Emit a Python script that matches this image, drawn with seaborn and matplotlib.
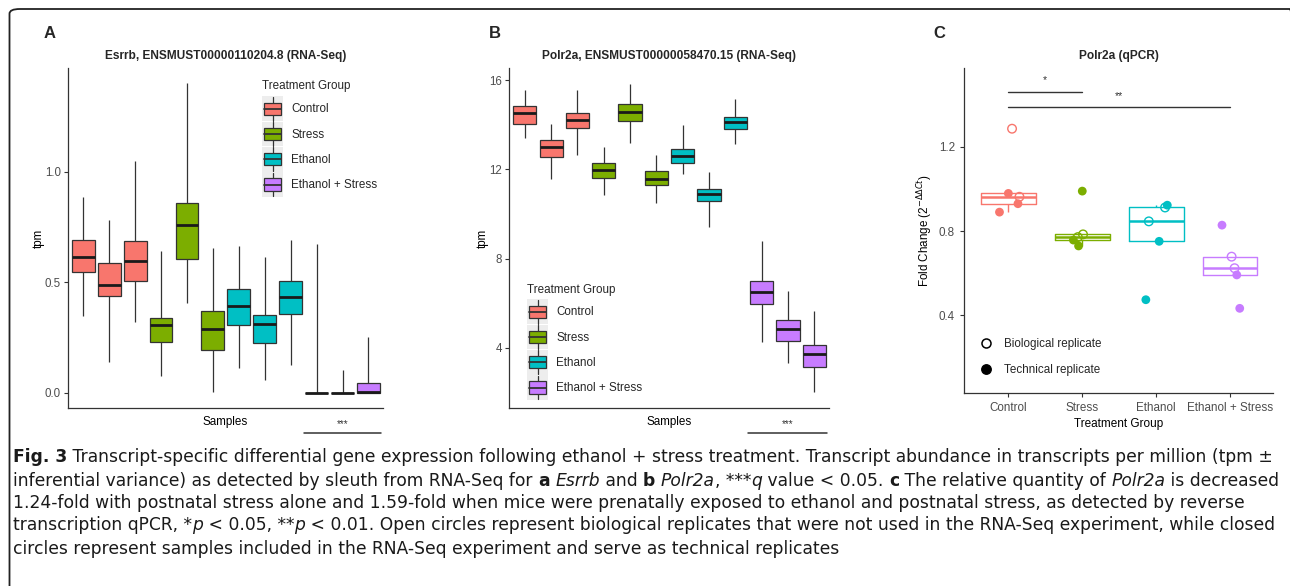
import os
import numpy as np
import pandas as pd
import matplotlib
matplotlib.use("Agg")
import matplotlib.pyplot as plt
import seaborn as sns
from matplotlib.patches import Rectangle, Patch, FancyBboxPatch
from matplotlib.lines import Line2D
from matplotlib.legend_handler import HandlerBase
import matplotlib.transforms as mtransforms
from matplotlib import font_manager
from matplotlib.font_manager import FontProperties
from matplotlib.ft2font import FT2Font

# ---------------- data ----------------
groups = ["Control", "Stress", "Ethanol", "Ethanol + Stress"]
palette = ["#F8766D", "#7CAE00", "#00BFC4", "#C77CFF"]
sample_group = ["Control"] * 3 + ["Stress"] * 3 + ["Ethanol"] * 3 + ["Ethanol + Stress"] * 3

# Panel A: Esrrb tpm per sample (whisker low, q1, median, q3, whisker high)
esrrb_low = [0.347, 0.140, 0.321, 0.078, 0.407, 0.005, 0.115, 0.059, 0.128, 0.0, 0.0, 0.0]
esrrb_q1 = [0.548, 0.439, 0.508, 0.229, 0.606, 0.195, 0.309, 0.226, 0.359, 0.0, 0.0, 0.0]
esrrb_med = [0.615, 0.490, 0.596, 0.308, 0.760, 0.291, 0.392, 0.312, 0.436, 0.0, 0.0, 0.003]
esrrb_q3 = [0.692, 0.587, 0.688, 0.339, 0.858, 0.373, 0.469, 0.353, 0.507, 0.0, 0.0, 0.047]
esrrb_high = [0.887, 0.784, 1.051, 0.644, 1.403, 0.655, 0.664, 0.614, 0.692, 0.673, 0.106, 0.252]

# Panel B: Polr2a tpm per sample
polr_low = [13.39, 11.56, 12.65, 10.83, 13.17, 10.48, 11.81, 9.41, 13.14, 4.28, 3.33, 2.03]
polr_q1 = [14.03, 12.56, 13.84, 11.63, 14.18, 11.32, 12.30, 10.60, 13.79, 5.97, 4.30, 3.13]
polr_med = [14.51, 12.99, 14.23, 11.99, 14.55, 11.59, 12.60, 10.89, 14.11, 6.49, 4.87, 3.75]
polr_q3 = [14.82, 13.30, 14.54, 12.27, 14.93, 11.92, 12.91, 11.10, 14.33, 7.01, 5.24, 4.12]
polr_high = [15.55, 14.05, 15.54, 13.02, 15.84, 12.63, 14.00, 11.89, 15.14, 8.80, 6.53, 5.65]

# Panel C: qPCR fold change
qpcr_group = (["Control"] * 5 + ["Stress"] * 5 + ["Ethanol"] * 5 + ["Ethanol + Stress"] * 5)
qpcr_fold = [1.287, 0.963, 0.979, 0.930, 0.890,
             0.784, 0.771, 0.990, 0.757, 0.729,
             0.912, 0.846, 0.923, 0.751, 0.473,
             0.678, 0.623, 0.828, 0.591, 0.432]
qpcr_type = (["Biological"] * 2 + ["Technical"] * 3) * 4
qpcr_jitter = [0.05, 0.15, 0.0, 0.13, -0.12,
               0.01, -0.06, 0.0, -0.12, -0.05,
               0.12, -0.10, 0.15, 0.04, -0.14,
               0.02, 0.06, -0.11, 0.09, 0.13]

sig_a_text = "***"
sig_c = [("*", 0, 1, 1.462), ("**", 0, 3, 1.390)]

# ---------------- style ----------------
sns.set_theme(style="white")
plt.rcParams["font.family"] = ["Liberation Sans", "DejaVu Sans"]
plt.rcParams["mathtext.fontset"] = "dejavusans"

W, H = 1290, 586
fig = plt.figure(figsize=(W / 100, H / 100), dpi=100)
fig.patch.set_facecolor("white")

def ax_rect(left, top, right, bottom):
    return [left / W, 1 - bottom / H, (right - left) / W, (bottom - top) / H]

axA = fig.add_axes(ax_rect(67.7, 68, 383, 408))
axB = fig.add_axes(ax_rect(509, 68, 829, 408))
axC = fig.add_axes(ax_rect(964, 68, 1273, 393))

DARK = "#333333"
TICKC = "#4D4D4D"
pal = dict(zip(groups, palette))

def long_df(low, q1, med, q3, high):
    rows = []
    for i in range(len(low)):
        for v in (low[i], q1[i], med[i], q3[i], high[i]):
            rows.append({"sample": f"S{i+1:02d}", "group": sample_group[i], "val": v})
    return pd.DataFrame(rows)

class BoxKey(HandlerBase):
    def create_artists(self, legend, orig_handle, xdescent, ydescent, width, height, fontsize, trans):
        x0 = -xdescent
        ext = 0.28 * fontsize
        y0 = -ydescent - ext
        hh = height + 2 * ext
        bg = Rectangle((x0, y0), width, hh, facecolor="#EDEDED", edgecolor="none", transform=trans)
        cx = x0 + width / 2
        wl = Line2D([cx, cx], [y0 + 0.02 * hh, y0 + 0.98 * hh], color=DARK, lw=0.9, transform=trans)
        bw, bh = width * 0.82, hh * 0.5
        box = Rectangle((cx - bw / 2, y0 + hh / 2 - bh / 2), bw, bh,
                        facecolor=orig_handle.get_facecolor(), edgecolor=DARK, lw=0.9, transform=trans)
        md = Line2D([cx - bw / 2, cx + bw / 2], [y0 + hh / 2] * 2, color=DARK, lw=1.3, transform=trans)
        return [bg, wl, box, md]

def rnaseq_panel(ax, df, title, ylim, yticks, yticklabels, leg_anchor):
    sns.boxplot(data=df, x="sample", y="val", hue="group", hue_order=groups, palette=pal,
                dodge=False, width=0.88, whis=(0, 100), showcaps=False, showfliers=False,
                saturation=1, linewidth=0.9, linecolor=DARK, legend=False, ax=ax,
                medianprops=dict(linewidth=2.0, color="#1a1a1a"))
    ax.set_xlim(-0.6, 11.56)
    ax.set_ylim(*ylim)
    ax.set_yticks(yticks)
    ax.set_yticklabels(yticklabels)
    ax.set_xticks([])
    for s in ["top", "right"]:
        ax.spines[s].set_visible(False)
    for s in ["left", "bottom"]:
        ax.spines[s].set_color(DARK)
        ax.spines[s].set_linewidth(0.9)
    ax.tick_params(axis="y", length=3, width=0.8, color=DARK, labelcolor=TICKC, labelsize=8.3, pad=2, left=True)
    ax.set_ylabel("tpm", fontsize=8.4, color="black", labelpad=0)
    ax.set_xlabel("Samples", fontsize=8.4, color="black", labelpad=6)
    ax.set_title(title, fontsize=8.6, fontweight="bold", pad=6.5)
    tr = mtransforms.blended_transform_factory(ax.transData, ax.transAxes)
    ax.plot([8.5, 11.5], [-0.0735, -0.0735], color=DARK, lw=1.1, transform=tr, clip_on=False)
    ax.text(10.0, -0.055, sig_a_text, transform=tr, ha="center", va="baseline", fontsize=7, color=DARK)
    handles = [Patch(facecolor=c) for c in palette]
    ax.legend(handles, groups, title="Treatment Group", loc="upper left", bbox_to_anchor=leg_anchor,
              frameon=False, fontsize=8.4, title_fontsize=8.4, handler_map={Patch: BoxKey()},
              handlelength=1.8, handleheight=2.0, labelspacing=0.62, handletextpad=0.7,
              borderpad=0, borderaxespad=0, alignment="left")

dfA = long_df(esrrb_low, esrrb_q1, esrrb_med, esrrb_q3, esrrb_high)
rnaseq_panel(axA, dfA, "Esrrb, ENSMUST00000110204.8 (RNA-Seq)", (-0.068, 1.47), [0, 0.5, 1.0],
             ["0.0", "0.5", "1.0"], ((262 - 67.7) / 315.3, (408 - 80.5) / 340))

dfB = long_df(polr_low, polr_q1, polr_med, polr_q3, polr_high)
rnaseq_panel(axB, dfB, "Polr2a, ENSMUST00000058470.15 (RNA-Seq)", (1.31, 16.54), [4, 8, 12, 16],
             ["4", "8", "12", "16"], ((527 - 509) / 320, (408 - 283.5) / 340))

# ---------------- panel C ----------------
dfC = pd.DataFrame({"group": qpcr_group, "fold": qpcr_fold, "type": qpcr_type, "jit": qpcr_jitter})
sns.boxplot(data=dfC, x="group", y="fold", hue="group", order=groups, hue_order=groups, palette=pal,
            fill=False, width=0.74, whis=1.5, showcaps=False, showfliers=False, linewidth=1.0,
            saturation=1, legend=False, ax=axC, medianprops=dict(linewidth=1.8))
xpos = dfC["group"].map({g: i for i, g in enumerate(groups)}) + dfC["jit"]
cols = dfC["group"].map(pal)
bio = dfC["type"] == "Biological"
axC.scatter(xpos[~bio], dfC["fold"][~bio], s=40, c=list(cols[~bio]), edgecolors="none", zorder=5)
axC.scatter(xpos[bio], dfC["fold"][bio], s=38, facecolors="none", edgecolors=list(cols[bio]),
            linewidths=1.0, zorder=6)
axC.set_xlim(-0.6, 3.58)
axC.set_ylim(0.029, 1.576)
axC.set_yticks([0.4, 0.8, 1.2])
axC.set_yticklabels(["0.4", "0.8", "1.2"])
for s in ["top", "right"]:
    axC.spines[s].set_visible(False)
for s in ["left", "bottom"]:
    axC.spines[s].set_color(DARK)
    axC.spines[s].set_linewidth(0.9)
axC.tick_params(axis="both", length=3, width=0.8, color=DARK, labelcolor=TICKC, labelsize=8.4, pad=3.5,
                left=True, bottom=True)
axC.set_xlabel("Treatment Group", fontsize=8.5, color="black", labelpad=2.5)
axC.set_ylabel(r"Fold Change (2$^{-\Delta\Delta Ct}$)", fontsize=8.4, color="black", labelpad=2.5)
axC.set_title("Polr2a (qPCR)", fontsize=8.6, fontweight="bold", pad=6.5)
for txt, x1, x2, yv in sig_c:
    axC.plot([x1, x2], [yv, yv], color=DARK, lw=1.0)
    axC.text((x1 + x2) / 2 if x2 - x1 < 2 else 1.5, yv + 0.04, txt, ha="center", va="baseline",
             fontsize=7.5, color=DARK)
leg_handles = [Line2D([], [], marker="o", ls="", mfc="none", mec="black", ms=6.5, mew=1.1),
               Line2D([], [], marker="o", ls="", mfc="black", mec="black", ms=6.8)]
axC.legend(leg_handles, ["Biological replicate", "Technical replicate"], loc="upper left",
           bbox_to_anchor=((980 - 964) / 309, (393 - 338) / 325), frameon=False, fontsize=8.4,
           handlelength=1.0, handleheight=1.0, labelspacing=1.2, handletextpad=1.1,
           borderpad=0, borderaxespad=0)

# panel letters
for lab, x in [("A", 50), ("B", 495), ("C", 939)]:
    fig.text(x / W, 1 - 33 / H, lab, fontsize=12, fontweight="bold", ha="center", va="center")

# ---------------- border ----------------
border = FancyBboxPatch((9.5 / W, -8 / H), (1300 - 9.5) / W, (H - 9 + 8) / H,
                        boxstyle="round,pad=0,rounding_size=0.008", transform=fig.transFigure,
                        facecolor="none", edgecolor="#222222", lw=1.3, clip_on=False)
fig.patches.append(border)

# ---------------- caption ----------------
caption = [
    [("Fig. 3", "b"), (" Transcript-specific differential gene expression following ethanol + stress treatment. Transcript abundance in transcripts per million (tpm \u00b1", "n")],
    [("inferential variance) as detected by sleuth from RNA-Seq for ", "n"), ("a", "b"), (" ", "n"), ("Esrrb", "i"),
     (" and ", "n"), ("b", "b"), (" ", "n"), ("Polr2a", "i"), (", ***", "n"), ("q", "i"), (" value < 0.05. ", "n"),
     ("c", "b"), (" The relative quantity of ", "n"), ("Polr2a", "i"), (" is decreased", "n")],
    [("1.24-fold with postnatal stress alone and 1.59-fold when mice were prenatally exposed to ethanol and postnatal stress, as detected by reverse", "n")],
    [("transcription qPCR, *", "n"), ("p", "i"), (" < 0.05, **", "n"), ("p", "i"),
     (" < 0.01. Open circles represent biological replicates that were not used in the RNA-Seq experiment, while closed", "n")],
    [("circles represent samples included in the RNA-Seq experiment and serve as technical replicates", "n")],
]
renderer = fig.canvas.get_renderer()

def wnum(w):
    if isinstance(w, str):
        return font_manager.weight_dict.get(w, 400)
    return int(w)

def run_width(txt, fp):
    t1 = fig.text(0, 0, txt + "|", fontproperties=fp)
    t2 = fig.text(0, 0, "|", fontproperties=fp)
    w = t1.get_window_extent(renderer).width - t2.get_window_extent(renderer).width
    t1.remove(); t2.remove()
    return w

def make_fp(fonts, style, size):
    return FontProperties(fname=fonts[style], size=size)

def line_w(runs, fonts, size):
    return sum(run_width(t, make_fp(fonts, s, size)) for t, s in runs)

TARGET_W = 1281 - 13
TARGET_CAP = 11.5
sans_fams = ("DejaVu Sans", "Liberation Sans", "Noto Sans", "Roboto", "Open Sans", "Lato", "Inter")
fam_groups = {}
for f in font_manager.fontManager.ttflist:
    if not f.fname.lower().endswith((".ttf", ".otf")):
        continue
    if not f.name.startswith(sans_fams):
        continue
    if any(k in f.name for k in ("Mono", "CJK", "Display", "Math", "Symbol")):
        continue
    fam_groups.setdefault((f.name, str(f.stretch)), []).append(f)

best = None
for key, ents in fam_groups.items():
    normals = [e for e in ents if e.style == "normal"]
    italics = [e for e in ents if e.style != "normal"]
    if not normals:
        continue
    reg = min(normals, key=lambda e: abs(wnum(e.weight) - 400))
    if abs(wnum(reg.weight) - 400) > 50:
        continue
    bolds = [e for e in normals if wnum(e.weight) >= 600]
    bold = min(bolds, key=lambda e: abs(wnum(e.weight) - 700)) if bolds else None
    ita = min(italics, key=lambda e: abs(wnum(e.weight) - 400)) if italics else None
    fonts = {"n": reg.fname, "b": (bold or reg).fname, "i": (ita or reg).fname}
    try:
        ft = FT2Font(reg.fname)
        ft.set_size(100, 72)
        g = ft.load_char(ord("H"))
        cap_ratio = g.height / 64.0 / 100.0
        w12 = line_w(caption[0], fonts, 12.0)
    except Exception:
        continue
    size = 12.0 * TARGET_W / w12
    cap_px = cap_ratio * size * 100 / 72
    score = abs(cap_px - TARGET_CAP) + (3 if bold is None else 0) + (1 if ita is None else 0)
    if best is None or score < best[0]:
        best = (score, fonts, size)

if best is None:
    dv = font_manager.findfont(FontProperties(family="DejaVu Sans"))
    cap_fonts = {"n": dv, "b": font_manager.findfont(FontProperties(family="DejaVu Sans", weight="bold")),
                 "i": font_manager.findfont(FontProperties(family="DejaVu Sans", style="italic"))}
    cap_size = 11.0
else:
    cap_fonts, cap_size = best[1], best[2]
for _ in range(2):
    widest = max(line_w(r, cap_fonts, cap_size) for r in caption)
    cap_size = cap_size * TARGET_W / widest

baselines = [462.5, 485.5, 508, 530.5, 553.5]
for runs, yb in zip(caption, baselines):
    x = 13.0
    for txt, st in runs:
        fp = make_fp(cap_fonts, st, cap_size)
        fig.text(x / W, 1 - yb / H, txt, fontproperties=fp, ha="left", va="baseline", color="#1a1a1a")
        x += run_width(txt, fp)

fig.savefig("out.png", dpi=100)
